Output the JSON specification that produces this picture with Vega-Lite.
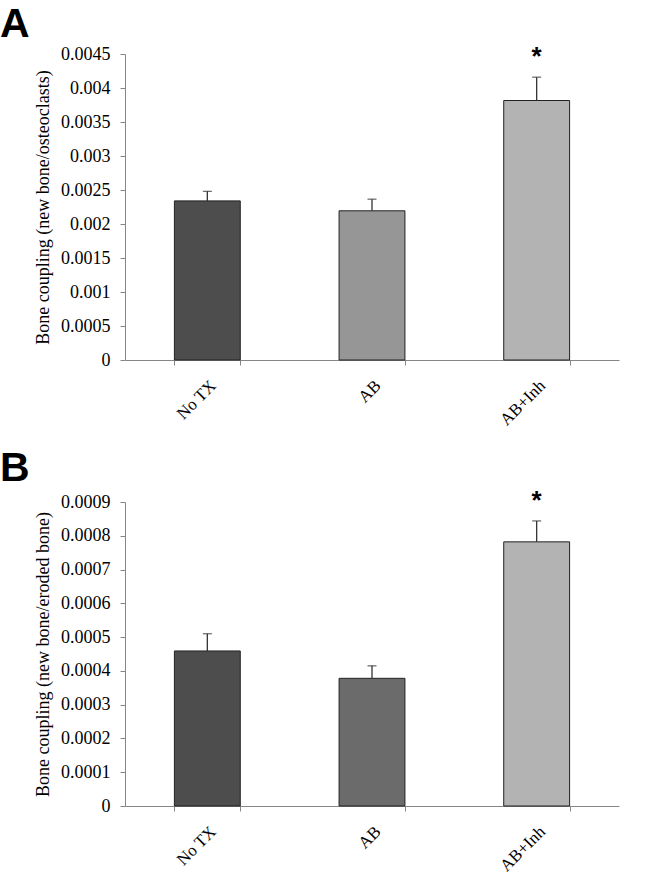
{
  "$schema": "https://vega.github.io/schema/vega-lite/v6.json",
  "background": "white",
  "padding": {"left": 0, "top": 4, "right": 5, "bottom": 0},
  "spacing": 19,
  "data": {"values": [
    {"panel": "A", "group": "No TX", "value": 0.00234, "upper": 0.00248, "sig": ""},
    {"panel": "A", "group": "AB", "value": 0.002194, "upper": 0.002365, "sig": ""},
    {"panel": "A", "group": "AB+Inh", "value": 0.003816, "upper": 0.004159, "sig": "*"},
    {"panel": "B", "group": "No TX", "value": 0.000459, "upper": 0.00051, "sig": ""},
    {"panel": "B", "group": "AB", "value": 0.000378, "upper": 0.000415, "sig": ""},
    {"panel": "B", "group": "AB+Inh", "value": 0.000782, "upper": 0.000844, "sig": "*"}
  ]},
  "config": {
    "view": {"stroke": null},
    "axis": {"labelFont": "Liberation Serif", "labelFontSize": 18, "labelColor": "black", "titleFont": "Liberation Serif", "titleFontSize": 18, "titleFontWeight": "normal", "titleColor": "black", "domainColor": "#868686", "tickColor": "#868686", "tickSize": 5, "grid": false, "labelOverlap": false},
    "title": {"font": "Liberation Sans", "fontSize": 41, "fontWeight": "bold", "color": "black", "anchor": "start", "frame": "group"}
  },
  "resolve": {"scale": {"color": "independent"}},
  "vconcat": [
    {
      "title": {"text": "A", "dx": -125, "offset": -2},
      "width": 494,
      "height": 306,
      "transform": [{"filter": "datum.panel === 'A'"}],
      "encoding": {
        "x": {"field": "group", "type": "nominal", "sort": ["No TX", "AB", "AB+Inh"], "scale": {"paddingInner": 0.6, "paddingOuter": 0.3},
          "axis": {"title": null, "labelAngle": -45, "labelAlign": "right", "labelBaseline": "top", "labelPadding": 12, "tickBand": "extent", "labelFontSize": 17}}
      },
      "layer": [
        {"mark": {"type": "bar", "stroke": "#222222", "strokeWidth": 1},
         "encoding": {
           "y": {"field": "value", "type": "quantitative", "scale": {"domain": [0, 0.0045], "nice": false},
             "axis": {"title": "Bone coupling (new bone/osteoclasts)", "values": [0, 0.0005, 0.001, 0.0015, 0.002, 0.0025, 0.003, 0.0035, 0.004, 0.0045], "format": "~g", "labelPadding": 10, "titlePadding": 8}},
           "color": {"field": "group", "type": "nominal", "legend": null, "scale": {"domain": ["No TX", "AB", "AB+Inh"], "range": ["#4d4d4d", "#969696", "#b3b3b3"]}}
         }},
        {"mark": {"type": "rule", "color": "#333333", "strokeWidth": 1.3},
         "encoding": {"y": {"field": "value", "type": "quantitative",
             "axis": {"title": "Bone coupling (new bone/osteoclasts)", "values": [0, 0.0005, 0.001, 0.0015, 0.002, 0.0025, 0.003, 0.0035, 0.004, 0.0045], "format": "~g", "labelPadding": 10, "titlePadding": 8}}, "y2": {"field": "upper"}}},
        {"mark": {"type": "tick", "color": "#333333", "thickness": 1.3, "size": 9},
         "encoding": {"y": {"field": "upper", "type": "quantitative",
             "axis": {"title": "Bone coupling (new bone/osteoclasts)", "values": [0, 0.0005, 0.001, 0.0015, 0.002, 0.0025, 0.003, 0.0035, 0.004, 0.0045], "format": "~g", "labelPadding": 10, "titlePadding": 8}}}},
        {"mark": {"type": "text", "font": "Liberation Sans", "fontSize": 26, "fontWeight": "bold", "baseline": "middle", "dy": -20, "color": "black"},
         "encoding": {"y": {"field": "upper", "type": "quantitative",
             "axis": {"title": "Bone coupling (new bone/osteoclasts)", "values": [0, 0.0005, 0.001, 0.0015, 0.002, 0.0025, 0.003, 0.0035, 0.004, 0.0045], "format": "~g", "labelPadding": 10, "titlePadding": 8}}, "text": {"field": "sig"}}}
      ]
    },
    {
      "title": {"text": "B", "dx": -125, "offset": -2},
      "width": 494,
      "height": 304,
      "transform": [{"filter": "datum.panel === 'B'"}],
      "encoding": {
        "x": {"field": "group", "type": "nominal", "sort": ["No TX", "AB", "AB+Inh"], "scale": {"paddingInner": 0.6, "paddingOuter": 0.3},
          "axis": {"title": null, "labelAngle": -45, "labelAlign": "right", "labelBaseline": "top", "labelPadding": 12, "tickBand": "extent", "labelFontSize": 17}}
      },
      "layer": [
        {"mark": {"type": "bar", "stroke": "#222222", "strokeWidth": 1},
         "encoding": {
           "y": {"field": "value", "type": "quantitative", "scale": {"domain": [0, 0.0009], "nice": false},
             "axis": {"title": "Bone coupling (new bone/eroded bone)", "values": [0, 0.0001, 0.0002, 0.0003, 0.0004, 0.0005, 0.0006, 0.0007, 0.0008, 0.0009], "format": "~g", "labelPadding": 10, "titlePadding": 8}},
           "color": {"field": "group", "type": "nominal", "legend": null, "scale": {"domain": ["No TX", "AB", "AB+Inh"], "range": ["#4d4d4d", "#6b6b6b", "#b3b3b3"]}}
         }},
        {"mark": {"type": "rule", "color": "#333333", "strokeWidth": 1.3},
         "encoding": {"y": {"field": "value", "type": "quantitative",
             "axis": {"title": "Bone coupling (new bone/eroded bone)", "values": [0, 0.0001, 0.0002, 0.0003, 0.0004, 0.0005, 0.0006, 0.0007, 0.0008, 0.0009], "format": "~g", "labelPadding": 10, "titlePadding": 8}}, "y2": {"field": "upper"}}},
        {"mark": {"type": "tick", "color": "#333333", "thickness": 1.3, "size": 9},
         "encoding": {"y": {"field": "upper", "type": "quantitative",
             "axis": {"title": "Bone coupling (new bone/eroded bone)", "values": [0, 0.0001, 0.0002, 0.0003, 0.0004, 0.0005, 0.0006, 0.0007, 0.0008, 0.0009], "format": "~g", "labelPadding": 10, "titlePadding": 8}}}},
        {"mark": {"type": "text", "font": "Liberation Sans", "fontSize": 26, "fontWeight": "bold", "baseline": "middle", "dy": -20, "color": "black"},
         "encoding": {"y": {"field": "upper", "type": "quantitative",
             "axis": {"title": "Bone coupling (new bone/eroded bone)", "values": [0, 0.0001, 0.0002, 0.0003, 0.0004, 0.0005, 0.0006, 0.0007, 0.0008, 0.0009], "format": "~g", "labelPadding": 10, "titlePadding": 8}}, "text": {"field": "sig"}}}
      ]
    }
  ]
}
